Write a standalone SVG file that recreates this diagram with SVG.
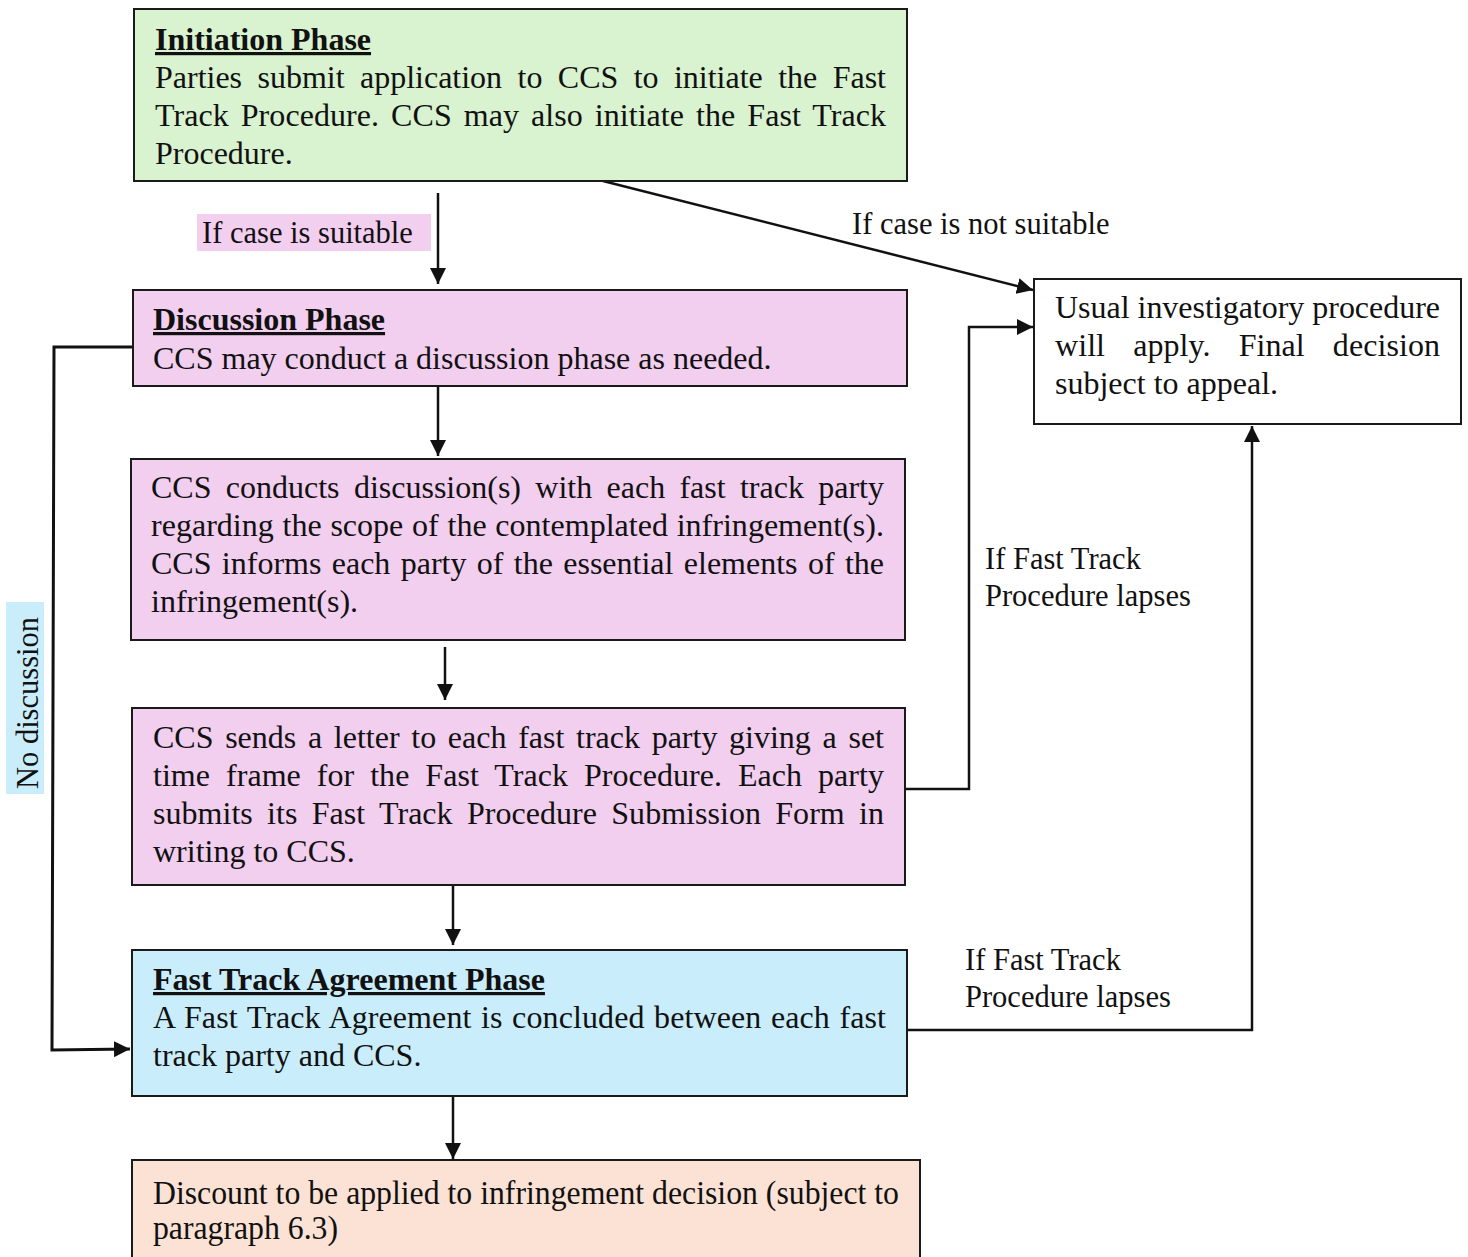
<svg xmlns="http://www.w3.org/2000/svg" width="1468" height="1257" viewBox="0 0 1468 1257">
<style>
  .box { stroke: #1a1a1a; stroke-width: 2; }
  .t { font-family: "Liberation Serif", "Times New Roman", serif; font-size: 32px; fill: #111; }
  .h { font-weight: bold; text-decoration: underline; }
  .lbl { font-family: "Liberation Serif", "Times New Roman", serif; font-size: 30.5px; fill: #111; }
  .conn { fill: none; stroke: #111; stroke-width: 2.5; }
  .thick { stroke-width: 3; }
</style>
<defs>
  <marker id="ah" markerUnits="userSpaceOnUse" markerWidth="16" markerHeight="16" viewBox="0 0 16 16" refX="16" refY="8" orient="auto">
    <path d="M0,0 L16,8 L0,16 Z" fill="#111"/>
  </marker>
</defs>
<rect width="1468" height="1257" fill="#ffffff"/>

<g id="connectors">
  <line class="conn" x1="438" y1="193" x2="438" y2="284" marker-end="url(#ah)"/>
  <line class="conn" x1="603" y1="181" x2="1033" y2="290" marker-end="url(#ah)"/>
  <line class="conn" x1="438" y1="387" x2="438" y2="456" marker-end="url(#ah)"/>
  <line class="conn" x1="445" y1="647" x2="445" y2="700" marker-end="url(#ah)"/>
  <line class="conn" x1="453" y1="886" x2="453" y2="945" marker-end="url(#ah)"/>
  <line class="conn" x1="453" y1="1096" x2="453" y2="1159" marker-end="url(#ah)"/>
  <polyline class="conn" points="905,789 969,789 969,327 1033,327" marker-end="url(#ah)"/>
  <polyline class="conn" points="907,1030 1252,1030 1252,426" marker-end="url(#ah)"/>
  <polyline class="conn thick" points="133,347 54,347 52,1050 130,1049" marker-end="url(#ah)"/>
</g>

<g id="label-suitable">
  <rect x="197" y="214" width="234" height="37" fill="#f2ceef"/>
  <text class="lbl" x="202" y="243">If case is suitable</text>
</g>
<g id="label-not-suitable">
  <text class="lbl" x="852" y="234">If case is not suitable</text>
</g>
<g id="label-lapse-1">
  <text class="lbl" x="985" y="569">If Fast Track</text>
  <text class="lbl" x="985" y="606">Procedure lapses</text>
</g>
<g id="label-lapse-2">
  <text class="lbl" x="965" y="970">If Fast Track</text>
  <text class="lbl" x="965" y="1007">Procedure lapses</text>
</g>
<g id="label-no-discussion">
  <rect x="6" y="602" width="38" height="192" fill="#caedfb"/>
  <text class="lbl" transform="translate(38,789) rotate(-90)" x="0" y="0">No discussion</text>
</g>

<g id="initiation">
  <rect class="box" x="134" y="9" width="773" height="172" fill="#d9f2d0"/>
  <text class="t h" x="155" y="50">Initiation Phase</text>
  <text class="t" x="155" y="88" word-spacing="7.4" textLength="731" lengthAdjust="spacing">Parties submit application to CCS to initiate the Fast</text>
  <text class="t" x="155" y="126" word-spacing="3.9" textLength="731" lengthAdjust="spacing">Track Procedure. CCS may also initiate the Fast Track</text>
  <text class="t" x="155" y="164">Procedure.</text>
</g>

<g id="usual">
  <rect class="box" x="1034" y="279" width="427" height="145" fill="#ffffff"/>
  <text class="t" x="1055" y="318" textLength="385" lengthAdjust="spacing">Usual investigatory procedure</text>
  <text class="t" x="1055" y="356" word-spacing="20" textLength="385" lengthAdjust="spacing">will apply. Final decision</text>
  <text class="t" x="1055" y="394">subject to appeal.</text>
</g>

<g id="discussion">
  <rect class="box" x="133" y="290" width="774" height="96" fill="#f2ceef"/>
  <text class="t h" x="153" y="330">Discussion Phase</text>
  <text class="t" x="153" y="369">CCS may conduct a discussion phase as needed.</text>
</g>

<g id="discussions-with-parties">
  <rect class="box" x="131" y="459" width="774" height="181" fill="#f2ceef"/>
  <text class="t" x="151" y="498" word-spacing="6.3" textLength="733" lengthAdjust="spacing">CCS conducts discussion(s) with each fast track party</text>
  <text class="t" x="151" y="536" word-spacing="0.7" textLength="733" lengthAdjust="spacing">regarding the scope of the contemplated infringement(s).</text>
  <text class="t" x="151" y="574" word-spacing="2.3" textLength="733" lengthAdjust="spacing">CCS informs each party of the essential elements of the</text>
  <text class="t" x="151" y="612">infringement(s).</text>
</g>

<g id="letter">
  <rect class="box" x="132" y="708" width="773" height="177" fill="#f2ceef"/>
  <text class="t" x="153" y="748" word-spacing="3.7" textLength="731" lengthAdjust="spacing">CCS sends a letter to each fast track party giving a set</text>
  <text class="t" x="153" y="786" word-spacing="7.9" textLength="731" lengthAdjust="spacing">time frame for the Fast Track Procedure. Each party</text>
  <text class="t" x="153" y="824" word-spacing="6.3" textLength="731" lengthAdjust="spacing">submits its Fast Track Procedure Submission Form in</text>
  <text class="t" x="153" y="862">writing to CCS.</text>
</g>

<g id="agreement">
  <rect class="box" x="132" y="950" width="775" height="146" fill="#caedfb"/>
  <text class="t h" x="153" y="990">Fast Track Agreement Phase</text>
  <text class="t" x="153" y="1028" word-spacing="1.4" textLength="733" lengthAdjust="spacing">A Fast Track Agreement is concluded between each fast</text>
  <text class="t" x="153" y="1066">track party and CCS.</text>
</g>

<g id="discount">
  <rect class="box" x="132" y="1160" width="788" height="110" fill="#fbe2d5"/>
  <text class="t" style="font-size:33px" x="153" y="1204" textLength="746" lengthAdjust="spacingAndGlyphs">Discount to be applied to infringement decision (subject to</text>
  <text class="t" style="font-size:33px" x="153" y="1239" textLength="185" lengthAdjust="spacingAndGlyphs">paragraph 6.3)</text>
</g>
</svg>
